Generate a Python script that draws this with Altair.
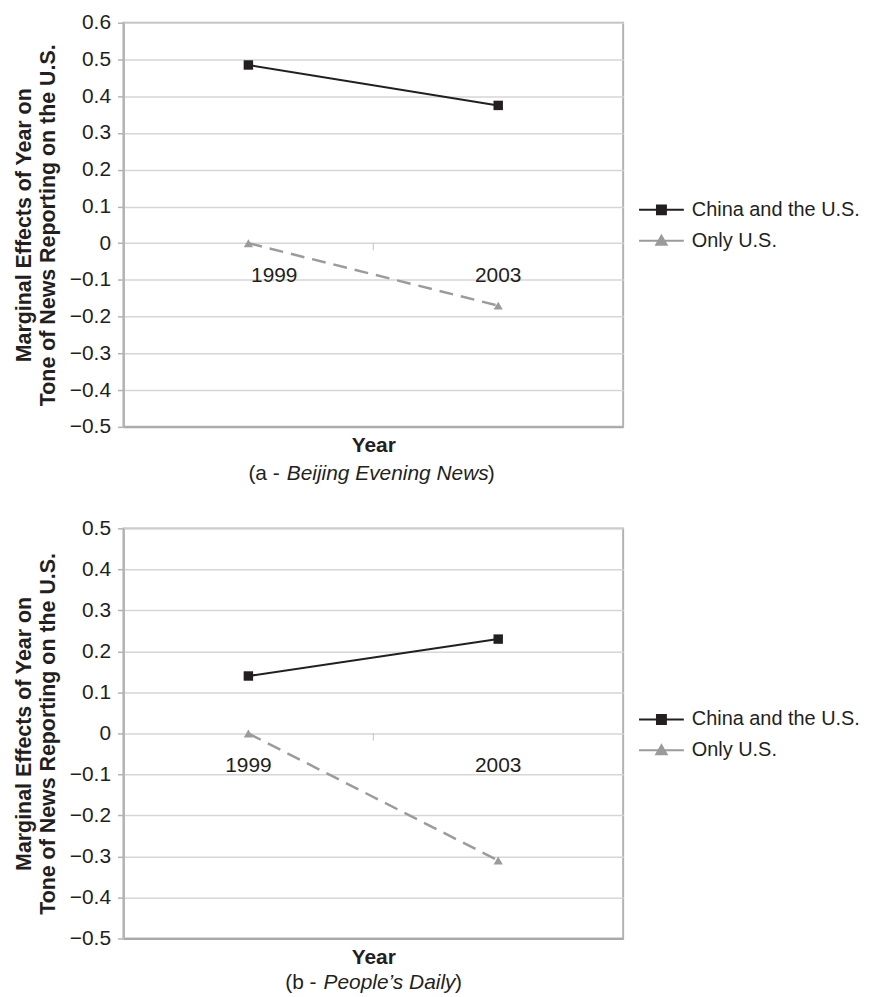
import altair as alt
import pandas as pd

# ---- data ----
years = [1999, 2003]
year_labels = ["1999", "2003"]
series_names = ["China and the U.S.", "Only U.S."]
beijing_china = [0.485, 0.375]
beijing_only = [0.0, -0.17]
people_china = [0.14, 0.23]
people_only = [0.0, -0.31]
ticks_a = [-0.5, -0.4, -0.3, -0.2, -0.1, 0.0, 0.1, 0.2, 0.3, 0.4, 0.5, 0.6]
ticks_b = [-0.5, -0.4, -0.3, -0.2, -0.1, 0.0, 0.1, 0.2, 0.3, 0.4, 0.5]
boundary = [2001]
x_domain = [1997, 2005]

FONT = "Liberation Sans"
TXT = "#231f20"
CHINA_COLOR = "#231f20"
ONLY_COLOR = "#9b9b9b"
GRID = "#d6d6d6"
FRAME = "#b3b3b3"
FS = 21

CHINA_SYMBOL = "M-2.25,0L2.25,0M-0.45,-0.45L0.45,-0.45L0.45,0.45L-0.45,0.45Z"
ONLY_SYMBOL = "M-2.25,0L2.25,0M0,-0.5L0.52,0.4L-0.52,0.4Z"

W = 502


def panel(china, only, ticks, height, prefix, italic, suffix, pre_x, it_x, suf_x,
          legend_y, label_dx, sub_off):
    df = pd.DataFrame({
        "year": years * 2,
        "value": china + only,
        "series": [series_names[0]] * len(years) + [series_names[1]] * len(years),
    })
    base = alt.Chart(df)
    x = alt.X("year:Q", scale=alt.Scale(domain=x_domain, nice=False, zero=False),
              axis=alt.Axis(title="Year", labels=False, ticks=False, grid=False,
                            domain=True, domainColor="#a9a9a9", domainWidth=2,
                            titleFont=FONT, titleFontSize=FS, titleFontWeight="bold",
                            titleColor=TXT, titlePadding=8))
    y = alt.Y("value:Q", scale=alt.Scale(domain=[ticks[0], ticks[-1]], nice=False, zero=False),
              axis=alt.Axis(values=ticks, tickCount=len(ticks), format=".1~f",
                            labelOverlap=False,
                            title=["Marginal Effects of Year on",
                                   "Tone of News Reporting on the U.S."],
                            titleFont=FONT, titleFontSize=21.5, titleFontWeight="bold",
                            titleColor=TXT, titleLineHeight=24, titlePadding=10,
                            labelFont=FONT, labelFontSize=FS, labelColor=TXT,
                            labelPadding=7, tickSize=6, tickColor=FRAME, tickWidth=1.5,
                            domainColor=FRAME, domainWidth=2,
                            grid=True, gridColor=GRID, gridWidth=1.5))

    china_sel = alt.datum.series == series_names[0]
    only_sel = alt.datum.series == series_names[1]

    china_line = base.transform_filter(china_sel).mark_line(
        color=CHINA_COLOR, strokeWidth=2).encode(x=x, y=y)
    only_line = base.transform_filter(only_sel).mark_line(
        color=ONLY_COLOR, strokeWidth=2.5, strokeDash=[14, 8]).encode(x=x, y=y)
    china_pts = base.transform_filter(china_sel).mark_point(
        shape="square", filled=True, size=90, color=CHINA_COLOR, opacity=1).encode(x=x, y=y)
    only_pts = base.transform_filter(only_sel).mark_point(
        shape="triangle-up", filled=True, size=85, color=ONLY_COLOR, opacity=1).encode(x=x, y=y)

    legend = alt.Legend(orient="none", legendX=529.5, legendY=legend_y, title=None,
                        padding=0, labelFont=FONT, labelFontSize=20, labelColor=TXT,
                        labelLimit=400, symbolSize=400, symbolStrokeWidth=2,
                        labelOffset=19.5, rowPadding=10, symbolOpacity=1)
    leg_layer = base.transform_filter("false").mark_point(
        filled=True, strokeWidth=2, opacity=1).encode(
        x=x, y=y,
        fill=alt.Fill("series:N", scale=alt.Scale(domain=series_names,
                                                  range=[CHINA_COLOR, ONLY_COLOR]),
                      legend=legend),
        stroke=alt.Stroke("series:N", scale=alt.Scale(domain=series_names,
                                                      range=[CHINA_COLOR, ONLY_COLOR]),
                          legend=legend),
        shape=alt.Shape("series:N", scale=alt.Scale(domain=series_names,
                                                    range=[CHINA_SYMBOL, ONLY_SYMBOL]),
                        legend=legend),
    )

    tick_df = pd.DataFrame({"year": boundary, "value": [0.0] * len(boundary)})
    mid_tick = alt.Chart(tick_df).mark_tick(
        orient="vertical", size=7, thickness=1.2, color=FRAME, yOffset=3.5).encode(
        x=alt.X("year:Q"), y=alt.Y("value:Q"))

    label_layers = []
    for yr, lab, dx in zip(years, year_labels, label_dx):
        ldf = pd.DataFrame({"year": [yr], "value": [0.0], "label": [lab]})
        label_layers.append(
            alt.Chart(ldf).mark_text(font=FONT, fontSize=FS, color=TXT, dy=33, dx=dx,
                                     baseline="middle", align="center").encode(
                x=alt.X("year:Q"), y=alt.Y("value:Q"), text="label:N"))

    sub_y = height + sub_off
    sub = [
        alt.Chart(pd.DataFrame({"t": [prefix]})).mark_text(
            font=FONT, fontSize=FS, color=TXT, align="right", baseline="middle").encode(
            x=alt.value(pre_x), y=alt.value(sub_y), text="t:N"),
        alt.Chart(pd.DataFrame({"t": [italic]})).mark_text(
            font=FONT, fontSize=FS, fontStyle="italic", color=TXT, align="left",
            baseline="middle").encode(
            x=alt.value(it_x), y=alt.value(sub_y), text="t:N"),
        alt.Chart(pd.DataFrame({"t": [suffix]})).mark_text(
            font=FONT, fontSize=FS, color=TXT, align="left", baseline="middle").encode(
            x=alt.value(suf_x), y=alt.value(sub_y), text="t:N"),
    ]

    return alt.layer(china_line, only_line, china_pts, only_pts, leg_layer, mid_tick,
                     *label_layers, *sub).properties(width=W, height=height)


panel_a = panel(beijing_china, beijing_only, ticks_a, 406,
                "(a -", "Beijing Evening News", ")", 157, 164, 366, 177, [26, 0], 47)
panel_b = panel(people_china, people_only, ticks_b, 412,
                "(b -", "People\u2019s Daily", ")", 194, 201, 333, 181, [0, 0], 45)

chart = alt.vconcat(panel_a, panel_b, spacing=32).resolve_scale(
    fill="independent", stroke="independent", shape="independent"
).resolve_legend(
    fill="independent", stroke="independent", shape="independent"
).properties(
    padding={"left": 4, "top": 0.5, "right": 0, "bottom": 0}
).configure_view(stroke=FRAME, strokeWidth=2)

chart.save("out.html", embed_options={"renderer": "svg", "actions": False})
